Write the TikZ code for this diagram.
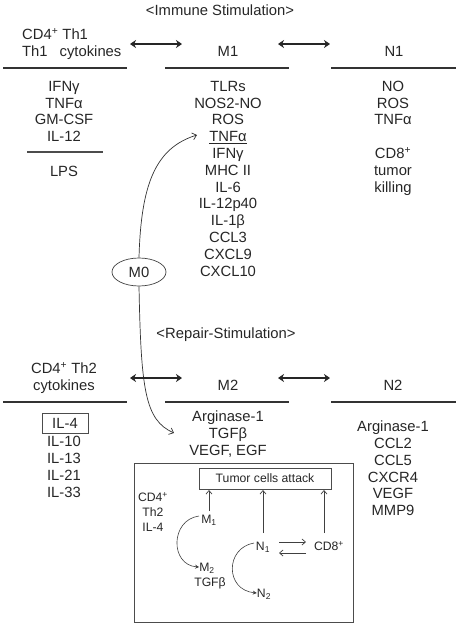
\documentclass[tikz,border=0pt]{standalone}
\usepackage{fontspec}
\setmainfont{Liberation Sans}
\usetikzlibrary{arrows.meta,shapes.geometric}
\begin{document}
\begin{tikzpicture}[x=1pt,y=-1pt,
  txt/.style={inner sep=0pt,text height=10.6pt,text depth=0pt,font=\fontsize{14.8}{17}\selectfont,text=black!85},
  stxt/.style={inner sep=0pt,text height=8.8pt,text depth=0pt,font=\fontsize{12.2}{14.5}\selectfont,text=black!85},
  sep/.style={line width=1.8pt,draw=black!80},
  dbl/.style={line width=1.6pt,draw=black!85,{Stealth[length=6pt,width=8pt]}-{Stealth[length=6pt,width=8pt]}},
  curv/.style={line width=0.7pt,draw=black!80,-{Straight Barb[length=4pt,width=7pt]}},
  scurv/.style={line width=0.6pt,draw=black!75,-{Stealth[length=4pt,width=4pt]}},
  up/.style={line width=0.7pt,draw=black!75,-{Straight Barb[length=3.5pt,width=6pt]}},
  frame/.style={draw=black!70,line width=0.8pt}
]
\useasboundingbox (0,0) rectangle (460,627);

% ---------- Immune stimulation ----------
\node[txt] (imm) at (220,10) {<Immune Stimulation>};
\node[txt,anchor=west] (th1a) at (22,34) {CD4\textsuperscript{+} Th1};
\node[txt,anchor=west] (th1b) at (22,51) {Th1\hspace{12pt}cytokines};
\node[txt] (M1) at (228,51) {M1};
\node[txt] (N1) at (394,51) {N1};
\coordinate (a1l) at (130,44); \coordinate (a1r) at (182,44);
\coordinate (a2l) at (278,44); \coordinate (a2r) at (330,44);
\draw[dbl] (a1l) -- (a1r);
\draw[dbl] (a2l) -- (a2r);
\coordinate (s1a) at (3,68); \coordinate (s1b) at (127,68);
\coordinate (s2a) at (165,68); \coordinate (s2b) at (289,68);
\coordinate (s3a) at (331,68); \coordinate (s3b) at (456,68);
\draw[sep] (s1a) -- (s1b);
\draw[sep] (s2a) -- (s2b);
\draw[sep] (s3a) -- (s3b);

\foreach \t [count=\i] in {IFNγ,TNFα,GM-CSF,IL-12}
  \node[txt] (l\i) at (64,{86+16.8*(\i-1)}) {\t};
\coordinate (s4a) at (27,152); \coordinate (s4b) at (103,152);
\draw[line width=1.2pt,draw=black!70] (s4a) -- (s4b);
\node[txt] (lps) at (64,171) {LPS};

\foreach \t [count=\i] in {TLRs,NOS2-NO,ROS,\underline{TNFα},IFNγ,MHC II,IL-6,IL-12p40,IL-1β,CCL3,CXCL9,CXCL10}
  \node[txt] (m\i) at (228,{86+16.8*(\i-1)}) {\t};

\foreach \t [count=\i] in {NO,ROS,TNFα,,CD8\textsuperscript{+},tumor,killing}
  \node[txt] (n\i) at (393,{86+16.8*(\i-1)}) {\t};

% ---------- M0 ----------
\node[ellipse,draw=black!75,line width=0.7pt,minimum width=54pt,minimum height=28pt,inner sep=0pt,txt] (M0) at (139,272) {M0};
\coordinate (tipup) at (197,135);
\coordinate (tipdn) at (174,433);
\draw[curv] (M0.north) .. controls (141,185) and (155,148) .. (tipup);
\draw[curv] (M0.south) .. controls (141,390) and (145,420) .. (tipdn);

% ---------- Repair stimulation ----------
\node[txt] (rep) at (226,333) {<Repair-Stimulation>};
\node[txt] (th2a) at (64,368) {CD4\textsuperscript{+} Th2};
\node[txt] (th2b) at (64,385) {cytokines};
\node[txt] (M2) at (228,385) {M2};
\node[txt] (N2) at (393,385) {N2};
\coordinate (b1l) at (130,378); \coordinate (b1r) at (182,378);
\coordinate (b2l) at (278,378); \coordinate (b2r) at (330,378);
\draw[dbl] (b1l) -- (b1r);
\draw[dbl] (b2l) -- (b2r);
\coordinate (t1a) at (3,402); \coordinate (t1b) at (127,402);
\coordinate (t2a) at (165,402); \coordinate (t2b) at (289,402);
\coordinate (t3a) at (331,402); \coordinate (t3b) at (456,402);
\draw[sep] (t1a) -- (t1b);
\draw[sep] (t2a) -- (t2b);
\draw[sep] (t3a) -- (t3b);

\node[txt,draw=black!70,line width=0.8pt,minimum width=46pt,minimum height=20pt,text height=10.6pt] (il4) at (65,423) {IL-4};
\foreach \t [count=\i] in {IL-10,IL-13,IL-21,IL-33}
  \node[txt] (k\i) at (64,{441+16.9*(\i-1)}) {\t};

\foreach \t [count=\i] in {Arginase-1,TGFβ,{VEGF, EGF}}
  \node[txt] (p\i) at (228,{416+16.9*(\i-1)}) {\t};

\foreach \t [count=\i] in {Arginase-1,CCL2,CCL5,CXCR4,VEGF,MMP9}
  \node[txt] (q\i) at (393,{426+16.9*(\i-1)}) {\t};

% ---------- inset box ----------
\coordinate (fa) at (134,463); \coordinate (fb) at (353,622);
\draw[frame] (fa) rectangle (fb);
\node[stxt,draw=black!70,line width=0.7pt,minimum width=132pt,minimum height=21pt] (tca) at (265,478.5) {Tumor cells attack};
\node[stxt] (sm1) at (209,519) {M\textsubscript{1}};
\node[stxt] (sn1) at (263,546) {N\textsubscript{1}};
\node[stxt] (cd8) at (329,546) {CD8\textsuperscript{+}};
\node[stxt,align=center,font=\fontsize{12.2}{14.8}\selectfont,text height=8.8pt] (cd4) at (153,527) {CD4\textsuperscript{+}\\Th2\\IL-4};
\node[stxt] (sm2) at (207,567) {M\textsubscript{2}};
\node[stxt] (tgf) at (210,582) {TGFβ};
\node[stxt] (sn2) at (264,593) {N\textsubscript{2}};

\draw[up] (209,511) -- (209,490);
\draw[up] (263,533) -- (263,490);
\draw[up] (324,533) -- (324,490);
\draw[up] (279,542) -- (306,542);
\draw[up] (306,553) -- (279,553);
\draw[scurv] (199,516) .. controls (170,520) and (170,565) .. (sm2.west);
\draw[scurv] (254,543) .. controls (225,548) and (225,590) .. (sn2.west);
\end{tikzpicture}
\end{document}
